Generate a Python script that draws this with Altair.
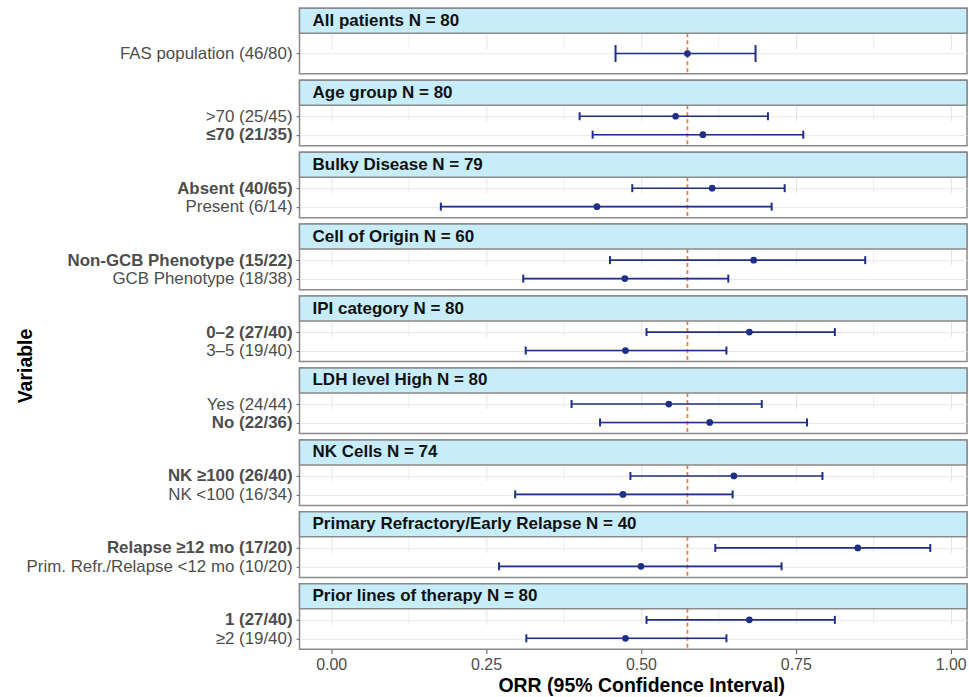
import altair as alt
import pandas as pd

# ---------------- data ----------------
group_titles = [
    "All patients N = 80",
    "Age group N = 80",
    "Bulky Disease N = 79",
    "Cell of Origin N = 60",
    "IPI category N = 80",
    "LDH level High N = 80",
    "NK Cells N = 74",
    "Primary Refractory/Early Relapse N = 40",
    "Prior lines of therapy N = 80",
]
group_index = [0, 1, 1, 2, 2, 3, 3, 4, 4, 5, 5, 6, 6, 7, 7, 8, 8]
labels = [
    "FAS population (46/80)",
    ">70 (25/45)", "≤70 (21/35)",
    "Absent (40/65)", "Present (6/14)",
    "Non-GCB Phenotype (15/22)", "GCB Phenotype (18/38)",
    "0–2 (27/40)", "3–5 (19/40)",
    "Yes (24/44)", "No (22/36)",
    "NK ≥100 (26/40)", "NK <100 (16/34)",
    "Relapse ≥12 mo (17/20)", "Prim. Refr./Relapse <12 mo (10/20)",
    "1 (27/40)", "≥2 (19/40)",
]
orr = [0.575, 0.556, 0.600, 0.615, 0.429, 0.682, 0.474, 0.675, 0.475,
       0.545, 0.611, 0.650, 0.471, 0.850, 0.500, 0.675, 0.475]
ci_low = [0.459, 0.401, 0.422, 0.486, 0.177, 0.450, 0.310, 0.509, 0.314,
          0.388, 0.434, 0.483, 0.297, 0.620, 0.271, 0.509, 0.315]
ci_high = [0.685, 0.705, 0.762, 0.732, 0.711, 0.862, 0.641, 0.813, 0.638,
           0.695, 0.768, 0.793, 0.648, 0.967, 0.727, 0.813, 0.638]
bold_labels = [
    "≤70 (21/35)", "Absent (40/65)", "Non-GCB Phenotype (15/22)", "0–2 (27/40)",
    "No (22/36)", "NK ≥100 (26/40)", "Relapse ≥12 mo (17/20)", "1 (27/40)",
]
overall_orr = [0.575]
x_major = [0.0, 0.25, 0.5, 0.75, 1.0]
x_minor = [0.125, 0.375, 0.625, 0.875]

df = pd.DataFrame({"grp": group_index, "label": labels, "orr": orr,
                   "lo": ci_low, "hi": ci_high})

# ---------------- styling ----------------
FONT = "Liberation Sans"
NAVY = "#1d2f86"
ORANGE = "#e3814c"
STRIP_FILL = "#c7edfb"
BORDER = "#8a8a8a"
W = 668
STRIP_H = 25
H = 65.6

x_scale = alt.Scale(domain=[-0.0511, 1.0263], nice=False, zero=False)
major_test = "indexof([0,0.25,0.5,0.75,1], datum.value) >= 0"
bold_test = "indexof(" + str(bold_labels).replace("'", '"') + ", datum.label) >= 0"

panels = []
n_groups = len(group_titles)
for g in range(n_groups):
    sub = df[df["grp"] == g]
    sub_labels = list(sub["label"])
    last = g == n_groups - 1

    x_axis_kwargs = dict(
        values=sorted(x_major + x_minor),
        grid=True,
        gridColor="#e4e4e4",
        gridWidth={"condition": {"test": major_test, "value": 1.0}, "value": 0.6},
        domain=False,
        labels=last,
        ticks=last,
        tickColor={"condition": {"test": major_test, "value": "#555555"}, "value": "transparent"},
        tickSize=4,
        labelExpr=f"{major_test} ? format(datum.value, '.2f') : ''",
        labelFontSize=16,
        labelColor="#4d4d4d",
        labelPadding=3,
    )
    if last:
        x_axis = alt.Axis(
            title="ORR (95% Confidence Interval)",
            titleX=342,
            titleAlign="center",
            titleFontSize=19.5,
            titleFontWeight="bold",
            titleColor="#000000",
            titlePadding=4,
            **x_axis_kwargs,
        )
    else:
        x_axis = alt.Axis(title=None, **x_axis_kwargs)

    y_axis_kwargs = dict(
        grid=True,
        gridColor="#e8e8e8",
        domain=False,
        ticks=True,
        tickSize=3.5,
        tickColor="#666666",
        labelFontSize=16.9,
        labelColor="#4d4d4d",
        labelPadding=4,
        labelLimit=400,
        labelFontWeight={"condition": {"test": bold_test, "value": "bold"}, "value": "normal"},
    )
    if g == 4:
        y_axis = alt.Axis(
            title="Variable",
            titleX=-274.5,
            titleY=69.5,
            titleAngle=270,
            titleAlign="center",
            titleBaseline="middle",
            titleFontSize=19.5,
            titleFontWeight="bold",
            titleColor="#000000",
            **y_axis_kwargs,
        )
    else:
        y_axis = alt.Axis(title=None, **y_axis_kwargs)

    y_enc = alt.Y("label:N", sort=sub_labels,
                  scale=alt.Scale(type="point", padding=0.6, range=[STRIP_H, H]),
                  axis=y_axis)
    cap = 17 if len(sub_labels) == 1 else 8

    base = alt.Chart(sub)
    ref = alt.Chart(pd.DataFrame({"ref": overall_orr})).mark_rule(
        color=ORANGE, strokeDash=[4, 3], strokeWidth=1.8
    ).encode(x=alt.X("ref:Q", scale=x_scale, axis=x_axis),
             y=alt.value(STRIP_H), y2=alt.value(H))
    bar = base.mark_rule(color=NAVY, strokeWidth=1.6).encode(
        x=alt.X("lo:Q", scale=x_scale, axis=x_axis), x2="hi:Q", y=y_enc)
    cap_lo = base.mark_tick(color=NAVY, size=cap, thickness=2, opacity=1).encode(
        x=alt.X("lo:Q", scale=x_scale, axis=x_axis), y=y_enc)
    cap_hi = base.mark_tick(color=NAVY, size=cap, thickness=2, opacity=1).encode(
        x=alt.X("hi:Q", scale=x_scale, axis=x_axis), y=y_enc)
    pts = base.mark_point(filled=True, size=45, color=NAVY, opacity=1).encode(
        x=alt.X("orr:Q", scale=x_scale, axis=x_axis), y=y_enc)

    strip_df = pd.DataFrame({"title": [group_titles[g]]})
    strip_bg = alt.Chart(strip_df).mark_rect(
        fill=STRIP_FILL, stroke=BORDER, strokeWidth=1.5
    ).encode(x=alt.value(0), x2=alt.value(W), y=alt.value(0), y2=alt.value(STRIP_H))
    strip_txt = alt.Chart(strip_df).mark_text(
        align="left", baseline="middle", fontSize=17, fontWeight="bold",
        color="#111111", font=FONT,
    ).encode(x=alt.value(13), y=alt.value(STRIP_H / 2), text="title:N")

    panel = alt.layer(ref, bar, cap_lo, cap_hi, pts, strip_bg, strip_txt).properties(
        width=W, height=H,
        view=alt.ViewBackground(fill="white", stroke=BORDER, strokeWidth=1.5),
    )
    panels.append(panel)

chart = alt.vconcat(*panels, spacing=6, bounds="flush").properties(
    padding={"left": 13.75, "top": 6, "right": 0, "bottom": 0},
    background="white",
).configure(font=FONT).configure_axis(labelFont=FONT, titleFont=FONT)

chart.save("out.html", embed_options={"renderer": "svg", "actions": False})
